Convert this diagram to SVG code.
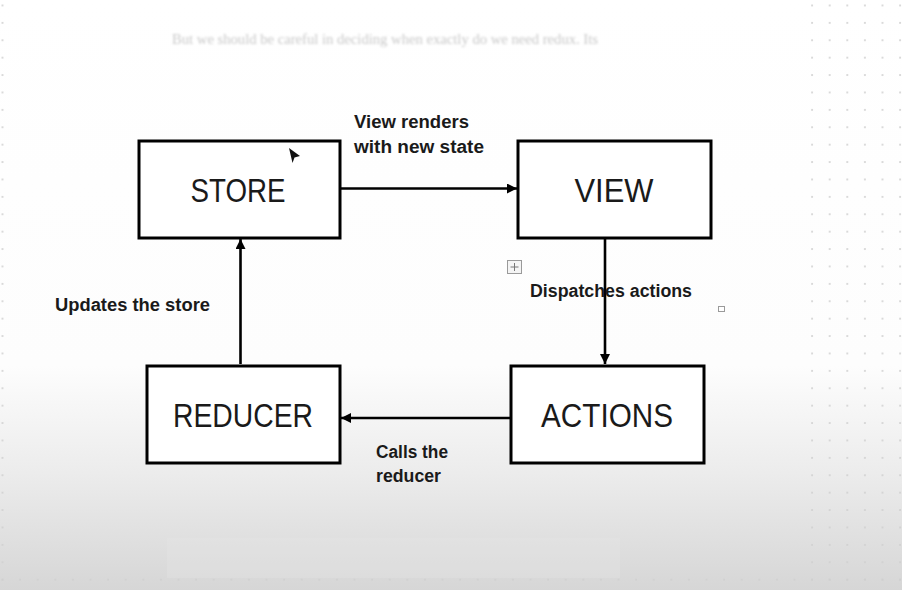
<svg xmlns="http://www.w3.org/2000/svg" width="902" height="590" viewBox="0 0 902 590">
  <defs>
    <linearGradient id="bg" x1="0" y1="0" x2="0" y2="1">
      <stop offset="0" stop-color="#ffffff"/>
      <stop offset="0.62" stop-color="#fdfdfd"/>
      <stop offset="0.8" stop-color="#ececec"/>
      <stop offset="1" stop-color="#d6d6d6"/>
    </linearGradient>
    <pattern id="dots" x="1.5" y="4.5" width="17.6" height="17.4" patternUnits="userSpaceOnUse">
      <circle cx="1" cy="1" r="1" fill="#cfcfcf"/>
    </pattern>
    <marker id="arr" markerWidth="10" markerHeight="10" refX="10" refY="5" orient="auto" markerUnits="userSpaceOnUse">
      <path d="M0,0 L10,5 L0,10 z" fill="#000"/>
    </marker>
    <filter id="blur" x="-5%" y="-50%" width="110%" height="200%">
      <feGaussianBlur stdDeviation="0.9"/>
    </filter>
    <style>
      .box { fill: #ffffff; stroke: #000; stroke-width: 3; }
      .name { font-family: "Liberation Sans", Arial, sans-serif; font-size: 33px; fill: #1a1a1a; text-anchor: middle; }
      .lbl { font-family: "Liberation Sans", Arial, sans-serif; font-size: 18px; font-weight: bold; fill: #1a1a1a; }
      .conn { stroke: #000; stroke-width: 2.6; fill: none; }
    </style>
  </defs>

  <rect x="0" y="0" width="902" height="590" fill="url(#bg)"/>
  <rect x="800" y="0" width="102" height="590" fill="url(#dots)"/>
  <rect x="0" y="574" width="902" height="16" fill="url(#dots)"/>
  <rect x="0" y="0" width="8" height="590" fill="url(#dots)"/>

  <text x="172" y="44" font-family="Liberation Serif, serif" font-size="14" fill="#c9c9c9" filter="url(#blur)" textLength="426" lengthAdjust="spacingAndGlyphs">But we should be careful in deciding when exactly do we need redux. Its</text>
  <rect x="167" y="538" width="453" height="40" fill="#e4e4e4" opacity="0.35"/>

  <g id="connectors">
    <line class="conn" x1="340" y1="188.5" x2="517" y2="188.5" marker-end="url(#arr)"/>
    <line class="conn" x1="605" y1="239" x2="605" y2="364" marker-end="url(#arr)"/>
    <line class="conn" x1="511" y1="418" x2="341" y2="418" marker-end="url(#arr)"/>
    <line class="conn" x1="240.5" y1="364" x2="240.5" y2="239" marker-end="url(#arr)"/>
  </g>

  <g id="store">
    <rect class="box" x="139" y="141" width="201" height="97"/>
    <text class="name" x="238" y="202" textLength="95" lengthAdjust="spacingAndGlyphs">STORE</text>
  </g>
  <g id="view">
    <rect class="box" x="518" y="141" width="193" height="97"/>
    <text class="name" x="614" y="202" textLength="79" lengthAdjust="spacingAndGlyphs">VIEW</text>
  </g>
  <g id="reducer">
    <rect class="box" x="147" y="366" width="193" height="97"/>
    <text class="name" x="243" y="427" textLength="140" lengthAdjust="spacingAndGlyphs">REDUCER</text>
  </g>
  <g id="actions">
    <rect class="box" x="511" y="366" width="193" height="97"/>
    <text class="name" x="607" y="427" textLength="132" lengthAdjust="spacingAndGlyphs">ACTIONS</text>
  </g>

  <g id="labels">
    <text class="lbl" x="354" y="128" textLength="115" lengthAdjust="spacingAndGlyphs">View renders</text>
    <text class="lbl" x="354" y="153" textLength="130" lengthAdjust="spacingAndGlyphs">with new state</text>
    <text class="lbl" x="55" y="311" textLength="155" lengthAdjust="spacingAndGlyphs">Updates the store</text>
    <text class="lbl" x="530" y="297" textLength="162" lengthAdjust="spacingAndGlyphs">Dispatches actions</text>
    <text class="lbl" x="376" y="458" textLength="72" lengthAdjust="spacingAndGlyphs">Calls the</text>
    <text class="lbl" x="376" y="482" textLength="65" lengthAdjust="spacingAndGlyphs">reducer</text>
  </g>

  <g id="ui-marks">
    <rect x="507.5" y="260.5" width="14" height="13" fill="#f4f4f4" stroke="#9a9a9a" stroke-width="1"/>
    <path d="M514.5,263 V271 M510.5,267 H518.5" stroke="#777" stroke-width="1"/>
    <rect x="718.5" y="306.5" width="6" height="5" fill="#fff" stroke="#9a9a9a" stroke-width="1"/>
    <path d="M289,148 L300,156 L294.5,157.5 L292.5,163 Z" fill="#111"/>
  </g>
</svg>
